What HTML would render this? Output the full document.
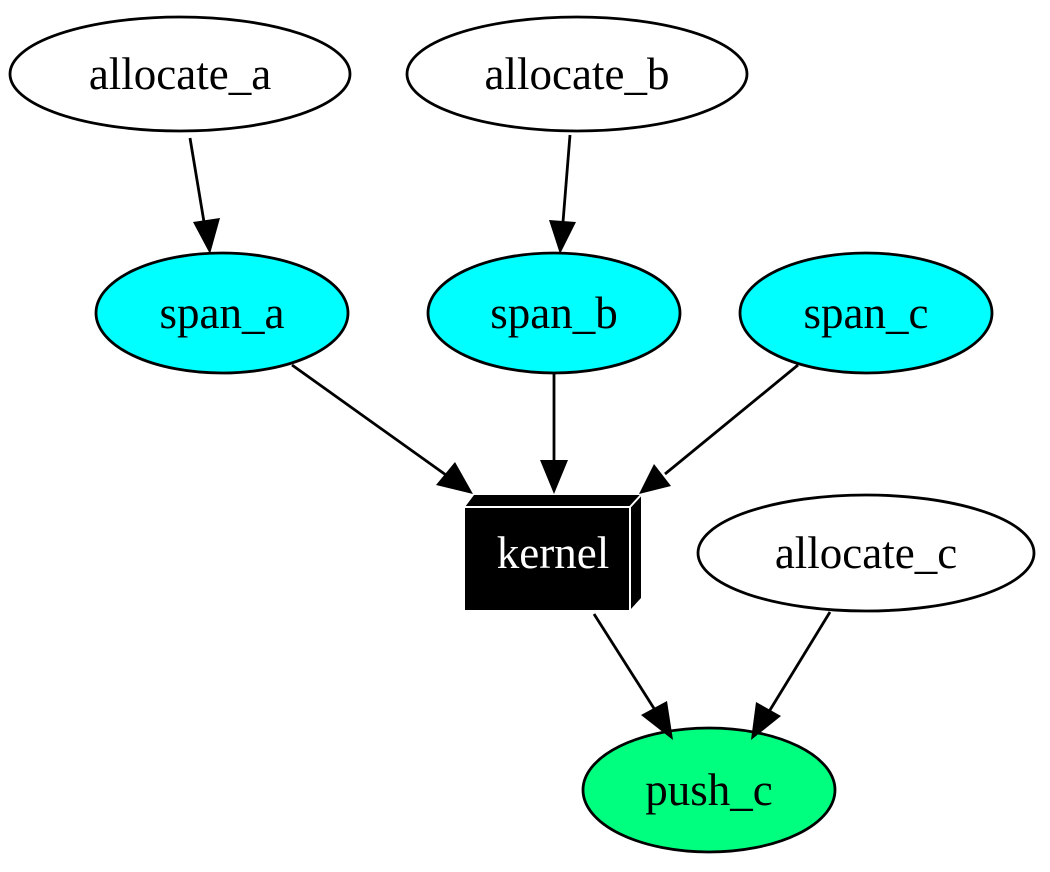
<!DOCTYPE html>
<html><head><style>html,body{margin:0;padding:0;background:#fff}</style></head><body>
<svg width="1050" height="867" viewBox="0 0 1050 867" xmlns="http://www.w3.org/2000/svg" font-family="Liberation Serif, serif" font-size="45" text-anchor="middle">
<g stroke="#000" stroke-width="2.8">
<ellipse cx="180" cy="74" rx="170" ry="57" fill="#fff"/>
<ellipse cx="577" cy="74" rx="170" ry="57" fill="#fff"/>
<ellipse cx="222" cy="313" rx="126" ry="60" fill="#00ffff"/>
<ellipse cx="554" cy="313" rx="126" ry="60" fill="#00ffff"/>
<ellipse cx="866" cy="313" rx="126" ry="60" fill="#00ffff"/>
<ellipse cx="866" cy="553" rx="168" ry="58" fill="#fff"/>
<ellipse cx="709" cy="790" rx="126" ry="62" fill="#00ff7f"/>
</g>
<g stroke="#000" stroke-width="2.8" fill="none">
<line x1="190" y1="138" x2="204" y2="222"/>
<line x1="570" y1="135" x2="563" y2="222"/>
<line x1="292" y1="365" x2="446" y2="475"/>
<line x1="554" y1="372" x2="554" y2="460"/>
<line x1="798" y1="365" x2="665" y2="474"/>
<line x1="594" y1="614" x2="655" y2="710"/>
<line x1="830" y1="612" x2="770" y2="710"/>
</g>
<g fill="#000">
<polygon points="193,222 220,218 210,254"/>
<polygon points="549,220 576,222 560,254"/>
<polygon points="436,485 455,462 473,494"/>
<polygon points="540,460 568,460 554,494"/>
<polygon points="654,464 671,486 639,494"/>
<polygon points="641,715 667,701 673,740"/>
<polygon points="756,702 781,716 751,740"/>
</g>
<polygon points="465,507 474,495 641,495 641,598 630,610 465,610" fill="#000"/>
<polyline points="465,507 630,507 630,610" fill="none" stroke="#fff" stroke-width="2"/>
<line x1="630" y1="507" x2="641" y2="495" stroke="#fff" stroke-width="2"/>
<text x="180" y="89">allocate_a</text>
<text x="577" y="89">allocate_b</text>
<text x="222" y="328">span_a</text>
<text x="554" y="328">span_b</text>
<text x="866" y="328">span_c</text>
<text x="866" y="568">allocate_c</text>
<text x="709" y="805">push_c</text>
<text x="553" y="568" fill="#fff">kernel</text>
</svg>
</body></html>
